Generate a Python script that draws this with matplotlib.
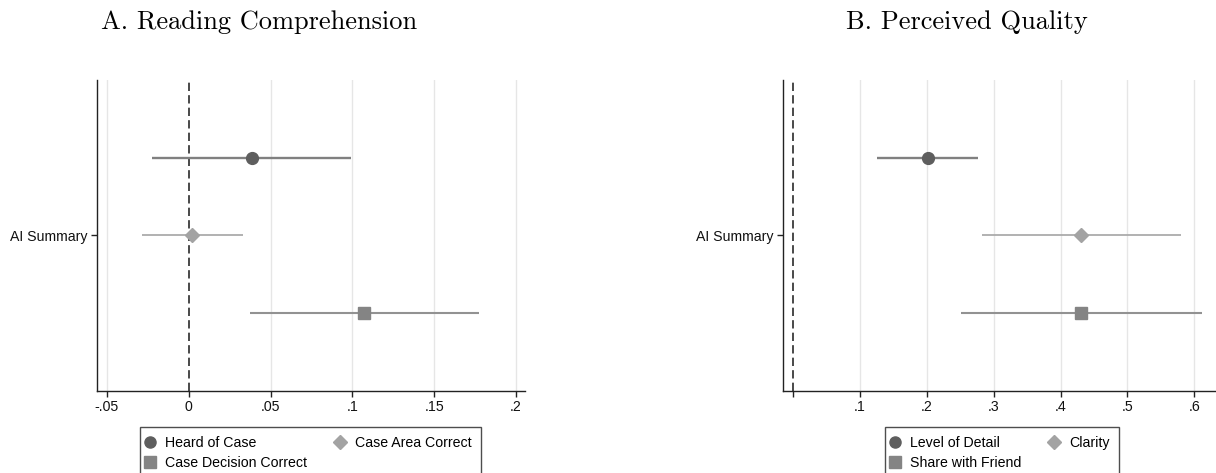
import matplotlib
matplotlib.use("Agg")
import matplotlib.pyplot as plt
from matplotlib.lines import Line2D

plt.rcParams["font.family"] = ["Liberation Sans", "DejaVu Sans"]

# Panel A: reading comprehension
a_labels = ["Heard of Case", "Case Area Correct", "Case Decision Correct"]
a_est = [0.0385, 0.0019, 0.1074]
a_lo = [-0.0222, -0.0287, 0.0376]
a_hi = [0.0994, 0.0329, 0.1771]
a_ticks = [-0.05, 0, 0.05, 0.1, 0.15, 0.2]
a_ticklabels = ["-.05", "0", ".05", ".1", ".15", ".2"]

# Panel B: perceived quality
b_labels = ["Level of Detail", "Clarity", "Share with Friend"]
b_est = [0.2013, 0.4306, 0.4310]
b_lo = [0.1257, 0.2821, 0.2514]
b_hi = [0.2770, 0.5800, 0.6115]
b_ticks = [0, 0.1, 0.2, 0.3, 0.4, 0.5, 0.6]
b_ticklabels = ["", ".1", ".2", ".3", ".4", ".5", ".6"]

row_label = "AI Summary"
markers = ["o", "D", "s"]
msizes = [8.5, 7.5, 8.5]
mcolors = ["#5e5e5e", "#a3a3a3", "#848484"]
lcolors = ["#808080", "#ababab", "#929292"]
lwidths = [1.7, 1.3, 1.5]

W, H = 1216, 473
fig = plt.figure(figsize=(W / 100, H / 100), dpi=100)


def px_axes(x0, x1, y0, y1):
    return fig.add_axes([x0 / W, 1 - y1 / H, (x1 - x0) / W, (y1 - y0) / H])


def panel(ax, est, lo, hi, ticks, ticklabels, xlim):
    ax.set_xlim(*xlim)
    ax.set_ylim(4, 0)
    for t in ticks:
        if t != 0:
            ax.axvline(t, color="#e6e6e6", lw=1.0, zorder=0)
    ax.axvline(0, color="#2a2a2a", lw=1.2, ls=(0, (5, 2.5)), zorder=1)
    for i in range(3):
        y = i + 1
        ax.plot([lo[i], hi[i]], [y, y], color=lcolors[i], lw=lwidths[i],
                solid_capstyle="butt", zorder=2)
        ax.plot(est[i], y, marker=markers[i], ms=msizes[i], color=mcolors[i],
                mec=mcolors[i], ls="none", zorder=3)
    ax.set_yticks([2])
    ax.set_yticklabels([row_label], fontsize=10.2)
    ax.set_xticks(ticks)
    ax.set_xticklabels(ticklabels, fontsize=10.2)
    ax.tick_params(axis="both", length=4, width=1, color="#222222", pad=3,
                   labelcolor="#111111")
    for s in ["top", "right"]:
        ax.spines[s].set_visible(False)
    for s in ["left", "bottom"]:
        ax.spines[s].set_color("#222222")
        ax.spines[s].set_linewidth(1.0)


axA = px_axes(97.3, 525.3, 80, 390.7)
panel(axA, a_est, a_lo, a_hi, a_ticks, a_ticklabels, (-0.0559, 0.2057))
axB = px_axes(783.3, 1216, 80, 390.7)
panel(axB, b_est, b_lo, b_hi, b_ticks, b_ticklabels, (-0.0145, 0.6325))

fig.text(101 / W, 1 - 29.5 / H, "A. Reading Comprehension", family="cmr10",
         fontsize=19, va="baseline", ha="left")
fig.text(846 / W, 1 - 29.5 / H, "B. Perceived Quality", family="cmr10",
         fontsize=19, va="baseline", ha="left")


def add_legend(labels, left_px):
    handles = [Line2D([], [], marker=markers[i], ms=msizes[i] - 0.5, color=mcolors[i],
                      ls="none") for i in range(3)]
    order = [0, 2, 1]
    leg = fig.legend([handles[i] for i in order], [labels[i] for i in order],
                     ncol=2, loc="upper left",
                     bbox_to_anchor=(left_px / W, 1 - 427 / H), fontsize=10.2,
                     frameon=True, fancybox=False, edgecolor="#222222",
                     handlelength=0.1, handletextpad=1.0, columnspacing=2.3,
                     borderpad=0.65, labelspacing=0.42, borderaxespad=0)
    leg.get_frame().set_linewidth(1.0)
    return leg


add_legend(a_labels, 140)
add_legend(b_labels, 885)

fig.savefig("out.png", dpi=100)
